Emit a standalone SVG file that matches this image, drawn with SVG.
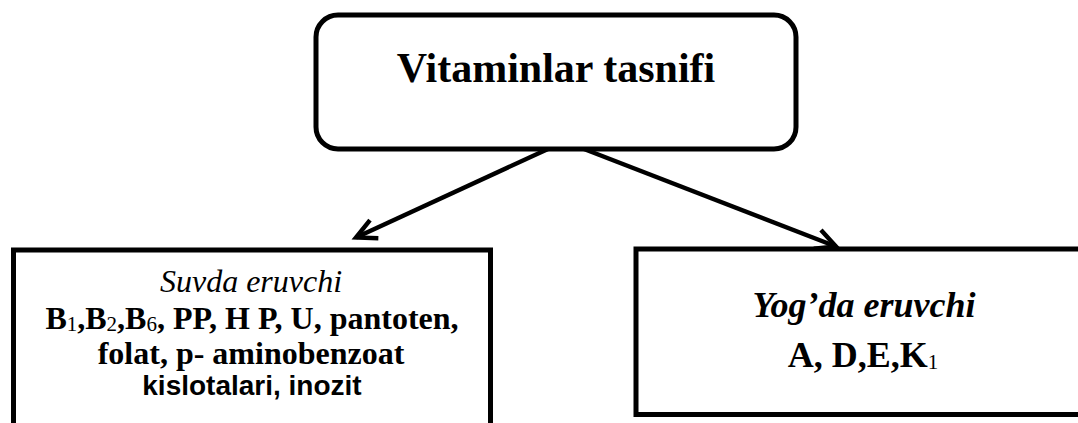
<svg xmlns="http://www.w3.org/2000/svg" width="1078" height="423" viewBox="0 0 1078 423">
<style>
.box{fill:#fff;stroke:#000;stroke-width:5}
.conn{fill:none;stroke:#000;stroke-width:4.4}
.serif{font-family:"Liberation Serif","Times New Roman",serif;fill:#000}
.b{font-weight:bold}
.i{font-style:italic}
.sub{font-weight:normal;font-size:21px}
.sans{font-family:"Liberation Sans",Arial,sans-serif;font-weight:bold;fill:#000}
</style>
<defs>
<marker id="arr" markerUnits="userSpaceOnUse" viewBox="-24 -13 28 26" refX="0" refY="0" markerWidth="28" markerHeight="26" orient="auto" overflow="visible">
<path d="M-20,-10 L0,0 L-20,10" fill="none" stroke="#000" stroke-width="4.4" stroke-linejoin="miter"/>
</marker>
</defs>
<rect width="1078" height="423" fill="#fff"/>
<g id="connectors">
<line class="conn" x1="548" y1="149" x2="356" y2="237.5" marker-end="url(#arr)"/>
<line class="conn" x1="584" y1="149" x2="836" y2="246.5" marker-end="url(#arr)"/>
</g>
<g id="node-root">
<rect class="box" x="316" y="15" width="480" height="134" rx="22" ry="22"/>
<text class="serif b" x="556" y="82" font-size="42" text-anchor="middle">Vitaminlar tasnifi</text>
</g>
<g id="node-water">
<rect class="box" x="13.5" y="250" width="477" height="220"/>
<text class="serif i" x="251" y="292" font-size="32" text-anchor="middle">Suvda eruvchi</text>
<text class="serif b" x="252" y="329" font-size="32" text-anchor="middle">B<tspan class="sub" dy="2">1</tspan><tspan dy="-2">,B</tspan><tspan class="sub" dy="2">2</tspan><tspan dy="-2">,B</tspan><tspan class="sub" dy="2">6</tspan><tspan dy="-2">, PP, H P, U, pantoten,</tspan></text>
<text class="serif b" x="251" y="364" font-size="32" text-anchor="middle">folat, p- aminobenzoat</text>
<text class="sans" x="252" y="395" font-size="28" text-anchor="middle">kislotalari, inozit</text>
</g>
<g id="node-fat">
<rect class="box" x="636" y="249" width="470" height="165.5"/>
<text class="serif b i" x="864" y="317" font-size="36" text-anchor="middle">Yog’da eruvchi</text>
<text class="serif b" x="863" y="367" font-size="36" text-anchor="middle">A, D,E,K<tspan class="sub" font-size="24" dy="2">1</tspan></text>
</g>
</svg>
